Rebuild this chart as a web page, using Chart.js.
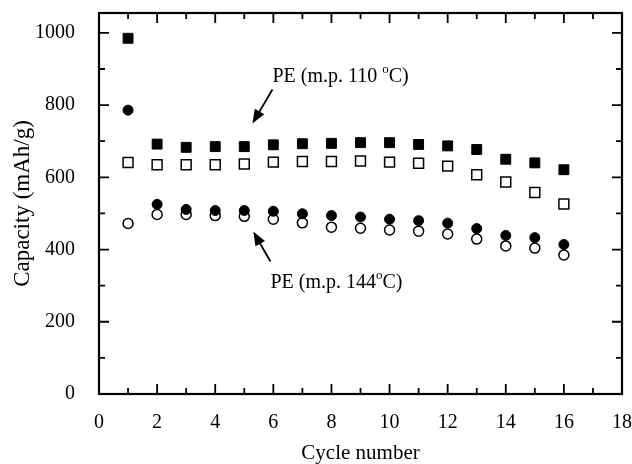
<!DOCTYPE html>
<html>
<head>
<meta charset="utf-8">
<script src="https://cdn.jsdelivr.net/npm/chart.js@4/dist/chart.umd.min.js"></script>
<style>
  html, body { margin: 0; padding: 0; background: #fff; }
  #wrap { width: 632px; height: 464px; }
</style>
</head>
<body>
<div id="wrap"><canvas id="myChart" width="632" height="464"></canvas></div>
<script>
var cycles = [1, 2, 3, 4, 5, 6, 7, 8, 9, 10, 11, 12, 13, 14, 15, 16];
// PE m.p. 110 C
var pe110Filled = [985, 692, 683, 685, 685, 690, 693, 694, 696, 696, 691, 687, 677, 650, 640, 621];
var pe110Open   = [641, 635, 635, 635, 637, 642, 644, 644, 645, 642, 639, 631, 607, 587, 558, 526];
// PE m.p. 144 C
var pe144Filled = [786, 525, 511, 508, 508, 506, 499, 494, 490, 484, 480, 473, 458, 439, 433, 414];
var pe144Open   = [472, 497, 497, 494, 492, 484, 474, 462, 459, 454, 451, 443, 429, 410, 404, 385];

var xTicks = [0, 2, 4, 6, 8, 10, 12, 14, 16, 18];
var yTicks = [0, 200, 400, 600, 800, 1000];

var serif = '"Liberation Serif", "DejaVu Serif", serif';

function pts(ys) {
  return cycles.map(function (c, i) { return { x: c, y: ys[i] }; });
}

function noPad(s) {
  s.paddingTop = 0; s.paddingBottom = 0; s.paddingLeft = 0; s.paddingRight = 0;
}

// frame, inward ticks and the two arrow labels
var framePlugin = {
  id: 'frame',
  afterDraw: function (chart) {
    var c = chart.ctx, a = chart.chartArea;
    var xs = chart.scales.x, ys = chart.scales.y;
    c.save();
    c.strokeStyle = '#000';
    c.lineWidth = 2.2;
    c.strokeRect(a.left, a.top, a.right - a.left, a.bottom - a.top);
    c.lineWidth = 1.8;
    c.beginPath();
    for (var i = 0; i <= 18; i++) {
      var px = xs.getPixelForValue(i);
      var len = (i % 2 === 0) ? 10 : 6;
      c.moveTo(px, a.bottom); c.lineTo(px, a.bottom - len);
      c.moveTo(px, a.top); c.lineTo(px, a.top + len);
    }
    for (var v = 0; v <= 1000; v += 100) {
      var py = ys.getPixelForValue(v);
      var l2 = (v % 200 === 0) ? 10 : 6;
      c.moveTo(a.left, py); c.lineTo(a.left + l2, py);
      c.moveTo(a.right, py); c.lineTo(a.right - l2, py);
    }
    c.stroke();

    // labels
    c.fillStyle = '#000';
    c.textBaseline = 'middle';
    c.textAlign = 'left';
    var t1x = xs.getPixelForValue(5.97), t1y = ys.getPixelForValue(878);
    c.font = '20px ' + serif;
    var s1 = 'PE (m.p. 110 ';
    c.fillText(s1, t1x, t1y);
    var w1 = c.measureText(s1).width;
    c.font = '13px ' + serif;
    c.fillText('o', t1x + w1, t1y - 7);
    var w2 = c.measureText('o').width;
    c.font = '20px ' + serif;
    c.fillText('C)', t1x + w1 + w2, t1y);

    var t2x = xs.getPixelForValue(5.9), t2y = ys.getPixelForValue(309);
    var s2 = 'PE (m.p. 144';
    c.fillText(s2, t2x, t2y);
    var w3 = c.measureText(s2).width;
    c.font = '13px ' + serif;
    c.fillText('o', t2x + w3, t2y - 7);
    var w4 = c.measureText('o').width;
    c.font = '20px ' + serif;
    c.fillText('C)', t2x + w3 + w4, t2y);

    arrow(c, xs.getPixelForValue(5.97), ys.getPixelForValue(843), xs.getPixelForValue(5.28), ys.getPixelForValue(749));
    arrow(c, xs.getPixelForValue(5.9), ys.getPixelForValue(367), xs.getPixelForValue(5.31), ys.getPixelForValue(450));
    c.restore();
  }
};

function arrow(c, x1, y1, x2, y2) {
  var ang = Math.atan2(y2 - y1, x2 - x1);
  var hl = 14, hw = 5.5;
  c.lineWidth = 1.8;
  c.beginPath();
  c.moveTo(x1, y1);
  c.lineTo(x2 - hl * 0.8 * Math.cos(ang), y2 - hl * 0.8 * Math.sin(ang));
  c.stroke();
  c.beginPath();
  c.moveTo(x2, y2);
  c.lineTo(x2 - hl * Math.cos(ang) + hw * Math.sin(ang), y2 - hl * Math.sin(ang) - hw * Math.cos(ang));
  c.lineTo(x2 - hl * Math.cos(ang) - hw * Math.sin(ang), y2 - hl * Math.sin(ang) + hw * Math.cos(ang));
  c.closePath();
  c.fill();
}

var ctx = document.getElementById('myChart').getContext('2d');
var chart = new Chart(ctx, {
    type: 'scatter',
    data: {
        datasets: [{
          label: 'PE 110 filled',
          data: pts(pe110Filled),
          pointStyle: 'rect',
          pointRadius: 7,
          backgroundColor: '#000',
          borderColor: '#000',
          borderWidth: 1
        },{
          label: 'PE 110 open',
          data: pts(pe110Open),
          pointStyle: 'rect',
          pointRadius: 7,
          backgroundColor: '#fff',
          borderColor: '#000',
          borderWidth: 1.5
        },{
          label: 'PE 144 filled',
          data: pts(pe144Filled),
          pointStyle: 'circle',
          pointRadius: 5,
          backgroundColor: '#000',
          borderColor: '#000',
          borderWidth: 1
        },{
          label: 'PE 144 open',
          data: pts(pe144Open),
          pointStyle: 'circle',
          pointRadius: 5,
          backgroundColor: '#fff',
          borderColor: '#000',
          borderWidth: 1.5
        }
      ]
    },
    options: {
      responsive: false,
      animation: false,
      layout: { padding: { top: 13, right: 10, left: 0, bottom: 0 } },
      plugins: {
        legend: { display: false },
        tooltip: { enabled: false }
      },
      scales: {
        x: {
          type: 'linear',
          min: 0,
          max: 18,
          afterBuildTicks: function (s) { s.ticks = xTicks.map(function (v) { return { value: v }; }); },
          afterFit: function (s) { s.height = 70; noPad(s); },
          grid: { display: false },
          border: { display: false },
          ticks: { color: '#000', padding: 9, maxRotation: 0, font: { family: serif, size: 20 },
                   callback: function (v) { return String(v); } },
          title: { display: true, text: 'Cycle number', color: '#000', padding: { top: 0, bottom: -2 }, font: { family: serif, size: 21 } }
        },
        y: {
          type: 'linear',
          min: 0,
          max: 1055,
          afterBuildTicks: function (s) { s.ticks = yTicks.map(function (v) { return { value: v }; }); },
          afterFit: function (s) { s.width = 99; noPad(s); },
          grid: { display: false },
          border: { display: false },
          ticks: { color: '#000', padding: 16, font: { family: serif, size: 20 },
                   callback: function (v) { return String(v); } },
          title: { display: true, text: 'Capacity (mAh/g)', color: '#000', padding: { top: 9, bottom: 0 }, font: { family: serif, size: 23 } }
        }
      }
    },
    plugins: [framePlugin]
});
</script>
</body>
</html>
